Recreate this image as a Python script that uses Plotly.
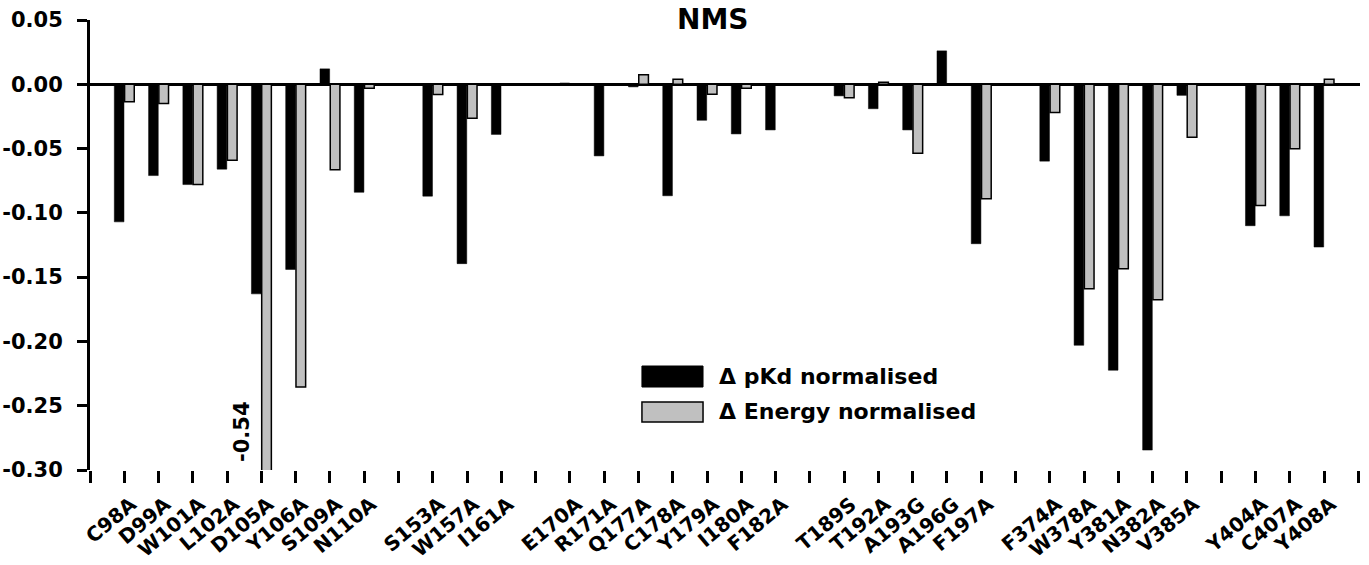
import plotly.graph_objects as go

# Residue groups (a blank slot separates consecutive groups on the axis)
group_1 = ["C98A", "D99A", "W101A", "L102A", "D105A", "Y106A", "S109A", "N110A"]
group_2 = ["S153A", "W157A", "I161A"]
group_3 = ["E170A", "R171A", "Q177A", "C178A", "Y179A", "I180A", "F182A"]
group_4 = ["T189S", "T192A", "A193G", "A196G", "F197A"]
group_5 = ["F374A", "W378A", "Y381A", "N382A", "V385A"]
group_6 = ["Y404A", "C407A", "Y408A"]
groups = [group_1, group_2, group_3, group_4, group_5, group_6]

# Series values (same order as the groups above)
pkd_normalised = [-0.107, -0.071, -0.078, -0.066, -0.163, -0.144, 0.012, -0.084,
                  -0.087, -0.1395, -0.039,
                  0.001, -0.0557, -0.002, -0.0867, -0.028, -0.0386, -0.0355,
                  -0.009, -0.019, -0.0355, 0.026, -0.124,
                  -0.0598, -0.203, -0.2224, -0.2845, -0.0086,
                  -0.110, -0.1023, -0.1266]
energy_normalised = [-0.0135, -0.015, -0.078, -0.059, -0.54, -0.2355, -0.0665, -0.003,
                     -0.008, -0.0264, 0.0,
                     0.0, 0.0, 0.0075, 0.004, -0.0078, -0.003, 0.0,
                     -0.0104, 0.0015, -0.0536, 0.0, -0.089,
                     -0.022, -0.159, -0.1434, -0.1675, -0.0412,
                     -0.0943, -0.0502, 0.004]

y_tick_values = [0.05, 0.0, -0.05, -0.10, -0.15, -0.20, -0.25, -0.30]
y_tick_labels = ["0.05", "0.00", "-0.05", "-0.10", "-0.15", "-0.20", "-0.25", "-0.30"]

clipped_label = "-0.54"
clipped_residue = "D105A"
title_text = "NMS"
legend_pkd = "\u0394 pKd normalised"
legend_energy = "\u0394 Energy normalised"

# Build slot positions: each group followed by one blank slot
residues, xpos = [], []
slot = 0
for g in groups:
    for r in g:
        residues.append(r)
        xpos.append(slot)
        slot += 1
    slot += 1  # gap
n_slots = slot
tick_vals = list(range(-1, n_slots))
pos_to_name = dict(zip(xpos, residues))
tick_text = [pos_to_name.get(t, "") for t in tick_vals]

FONT = "DejaVu Sans"

fig = go.Figure()
fig.add_trace(go.Bar(x=xpos, y=pkd_normalised, name=legend_pkd,
                     marker=dict(color="black", line=dict(color="black", width=0.5)),
                     showlegend=False))
fig.add_trace(go.Bar(x=xpos, y=energy_normalised, name=legend_energy,
                     marker=dict(color="#c0c0c0", line=dict(color="black", width=1.5)),
                     showlegend=False))

fig.update_layout(
    width=1369, height=565,
    margin=dict(l=90, r=9, t=20, b=95),
    paper_bgcolor="white", plot_bgcolor="white",
    barmode="group", bargap=0.4, bargroupgap=0.06,
    font=dict(family=FONT, size=21, color="black", weight="bold"),
    xaxis=dict(range=[-1, n_slots - 0.95], tickmode="array", tickvals=tick_vals,
               ticktext=tick_text, tickangle=-40, ticks="outside", ticklen=12,
               tickwidth=3, tickcolor="black", showline=False, showgrid=False,
               zeroline=False, automargin=False, ticklabelshift=7,
               ticklabelstandoff=2,
               tickfont=dict(family=FONT, size=20, weight="bold")),
    yaxis=dict(range=[-0.30, 0.05], tickmode="array", tickvals=y_tick_values,
               ticktext=y_tick_labels, ticks="outside", ticklen=10, tickwidth=3,
               tickcolor="black", showline=True, linewidth=3, linecolor="black",
               showgrid=False, zeroline=True, zerolinecolor="black",
               zerolinewidth=3, ticklabelstandoff=10, automargin=False,
               tickfont=dict(family=FONT, size=21, weight="bold")),
)

# Title at the very top of the page
fig.add_annotation(text=title_text, xref="paper", yref="paper", x=0.49, y=1.042,
                   xanchor="center", yanchor="top", showarrow=False,
                   font=dict(family=FONT, size=28, weight="bold", color="black"))

# Label for the clipped bar
cx = xpos[residues.index(clipped_residue)]
fig.add_annotation(text=clipped_label, x=cx - 0.55, y=-0.27, xref="x", yref="y",
                   textangle=-90, showarrow=False, xanchor="center", yanchor="middle",
                   font=dict(family=FONT, size=21, weight="bold", color="black"))

# Legend drawn as boxes + text
fig.add_shape(type="rect", xref="paper", yref="paper", x0=0.4346, x1=0.4827,
              y0=0.1844, y1=0.2311, fillcolor="black", line=dict(color="black", width=1))
fig.add_shape(type="rect", xref="paper", yref="paper", x0=0.4346, x1=0.4827,
              y0=0.1067, y1=0.1511, fillcolor="#c0c0c0", line=dict(color="black", width=1.5))
fig.add_annotation(text=legend_pkd, xref="paper", yref="paper", x=0.4937, y=0.2078,
                   xanchor="left", yanchor="middle", showarrow=False,
                   font=dict(family=FONT, size=22, weight="bold", color="black"))
fig.add_annotation(text=legend_energy, xref="paper", yref="paper", x=0.4937, y=0.1289,
                   xanchor="left", yanchor="middle", showarrow=False,
                   font=dict(family=FONT, size=22, weight="bold", color="black"))

fig.write_html("out.html", config={"displayModeBar": False},
               post_script="document.body.style.margin='0';document.body.style.overflow='hidden';")
